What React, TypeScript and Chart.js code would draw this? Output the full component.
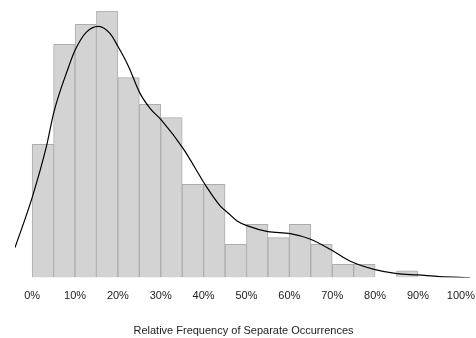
import React, { useEffect, useRef } from "react";
import { Chart, registerables } from "chart.js";

Chart.register(...registerables);

// Histogram bins (left edge, %) and counts per 5% bin
const binStarts = [0, 5, 10, 15, 20, 25, 30, 35, 40, 45, 50, 55, 60, 65, 70, 75, 80, 85];
const binCounts = [20, 35, 38, 40, 30, 26, 24, 14, 14, 5, 8, 6, 8, 5, 2, 2, 0, 1];
const binWidth = 5;

// Density curve (x in %, y in count units)
const curveX = [-4, 0, 3.3, 5.1, 8.5, 10, 12.6, 15.5, 18.2, 20, 22.4, 25.2, 27.5, 30.2, 35.2, 40.8, 43.8, 45.7, 47.8, 50.1, 55, 60.2, 64.8, 70.2, 74.1, 80, 85.1, 90, 95.1, 102.1];
const curveY = [4.5, 12.0, 19.6, 24.9, 31.6, 34.1, 36.8, 37.7, 36.6, 34.7, 31.8, 27.6, 25.4, 23.6, 19.4, 13.5, 10.8, 9.7, 8.5, 7.8, 6.9, 6.6, 5.8, 4.0, 2.5, 1.2, 0.6, 0.4, 0.15, 0.0];

const tickValues = [0, 10, 20, 30, 40, 50, 60, 70, 80, 90, 100];
const axisTitle = "Relative Frequency of Separate Occurrences";

export default function App() {
  const ref = useRef<HTMLCanvasElement | null>(null);

  useEffect(() => {
    if (!ref.current) return;
    const font = "'Liberation Sans', Arial, sans-serif";
    const chart = new Chart(ref.current, {
      type: "bar",
      data: {
        datasets: [
          {
            type: "line",
            data: curveX.map((x, i) => ({ x, y: curveY[i] })),
            borderColor: "#000",
            borderWidth: 1.2,
            pointRadius: 0,
            cubicInterpolationMode: "monotone",
            fill: false,
            order: 0,
          } as any,
          {
            type: "bar",
            data: binStarts.map((s, i) => ({ x: s + binWidth / 2, y: binCounts[i] })),
            backgroundColor: "#d3d3d3",
            borderColor: "#adadad",
            borderWidth: 1,
            barPercentage: 1,
            categoryPercentage: 1,
            order: 1,
          } as any,
        ],
      },
      options: {
        animation: false,
        responsive: true,
        maintainAspectRatio: false,
        layout: { padding: { left: 15, right: 4, top: 11, bottom: 0 } },
        plugins: { legend: { display: false }, tooltip: { enabled: false } },
        scales: {
          x: {
            type: "linear",
            min: -4,
            max: 102.6,
            offset: false,
            grid: { display: false },
            border: { display: false },
            afterBuildTicks: (scale: any) => {
              scale.ticks = tickValues.map((v) => ({ value: v }));
            },
            afterFit: (scale: any) => {
              scale.paddingLeft = 0;
              scale.paddingRight = 0;
            },
            ticks: {
              padding: 4,
              color: "#222",
              font: { family: font, size: 11 },
              maxRotation: 0,
              autoSkip: false,
              callback: (v: any) => v + "%",
            },
            title: {
              display: true,
              text: axisTitle,
              color: "#222",
              font: { family: font, size: 11 },
              padding: { top: 18, bottom: 0 },
            },
          },
          y: {
            display: false,
            min: 0,
            max: 40,
          },
        },
      },
    });
    return () => chart.destroy();
  }, []);

  return (
    <div style={{ position: "fixed", left: 0, top: 0, width: 476, height: 338, background: "#fff" }}>
      <canvas ref={ref} />
    </div>
  );
}
